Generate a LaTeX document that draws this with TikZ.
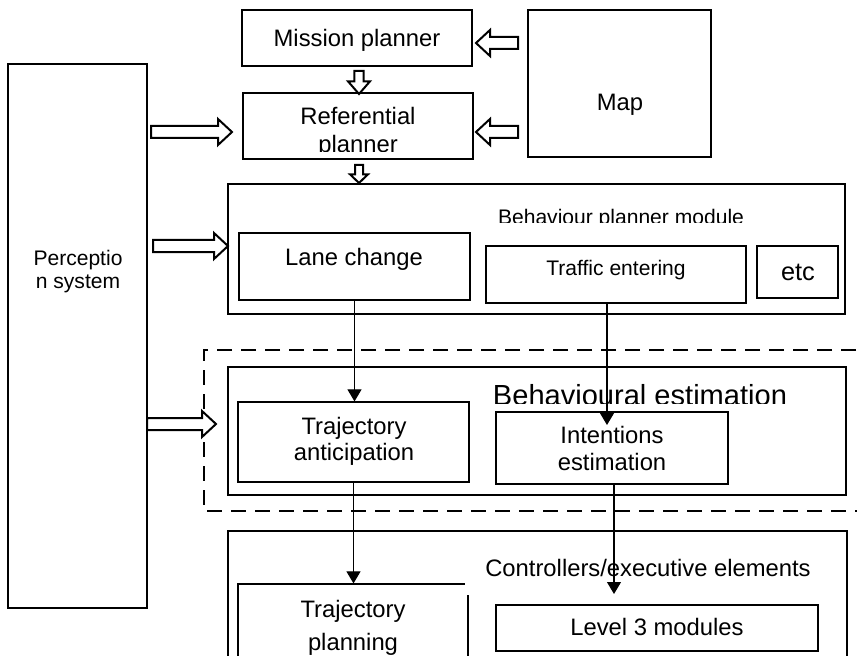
\documentclass[tikz,border=0pt]{standalone}
\usepackage{fontspec}
\setmainfont{Liberation Sans}
\usetikzlibrary{calc,fit,arrows.meta}
\newcommand\fsmain{\fontsize{17.85pt}{20pt}\selectfont}
\newcommand\fssmall{\fontsize{15.8pt}{18pt}\selectfont}
\newcommand\fsbig{\fontsize{21.8pt}{24pt}\selectfont}
\newcommand\fsetc{\fontsize{19pt}{21pt}\selectfont}
\newcommand\blockarrow[5]{%
  \coordinate (bah) at ($(#2)!#5!(#1)$);
  \draw[blockline] ($(#1)!#3!90:(#2)$) -- ($(bah)!#3!90:(#2)$) -- ($(bah)!#4!90:(#2)$) -- (#2)
    -- ($(bah)!#4!-90:(#2)$) -- ($(bah)!#3!-90:(#2)$) -- ($(#1)!#3!-90:(#2)$) -- cycle;}
\tikzset{
  thinbox/.style={draw=black, line width=0.9pt, fill=white, inner sep=0pt},
  thickbox/.style={draw=black, line width=2pt, fill=white, inner sep=0pt},
  dashbox/.style={draw=black, line width=1.9pt, dash pattern=on 11.25pt off 6.75pt},
  blockline/.style={draw=black, line width=1.5pt, fill=white, line join=miter},
  thinarr/.style={draw=black, line width=0.8pt, -{Triangle[length=9pt, width=10.5pt]}},
  lbl/.style={inner sep=0pt, anchor=base, font=\fsmain},
}
\begin{document}
\begin{tikzpicture}[x=0.75pt, y=-0.75pt]
\useasboundingbox (0,0) rectangle (857,656);
\clip (0,0) rectangle (857,656);

% top boxes
\node[thinbox, fit={(242,10)(472,66)}] (mp) {};
\node[lbl] (tmp) at (357,47) {Mission planner};
\node[thinbox, fit={(243,93)(473,159)}] (rp) {};
\begin{scope}
  \clip (243,93) rectangle (473,151.5);
  \node[lbl] (trp1) at (358,125) {Referential};
  \node[lbl] (trp2) at (358,153) {planner};
\end{scope}
\node[thinbox, fit={(528,10)(711,157)}] (map) {};
\node[lbl] (tmap) at (620,111) {Map};

% perception
\node[thinbox, fit={(8,64)(147,608)}] (perc) {};
\node[lbl, font=\fssmall] (tperc1) at (78,265) {Perceptio};
\node[lbl, font=\fssmall] (tperc2) at (78,288) {n system};

% behaviour planner module
\node[thickbox, fit={(228,184)(845,314)}] (bpm) {};
\begin{scope}
  \clip (228,184) rectangle (845,223);
  \node[lbl, font=\fssmall] (tbpm) at (621,224.5) {Behaviour planner module};
\end{scope}
\node[thinbox, fit={(239,233)(470,300)}] (lc) {};
\node[lbl] (tlc) at (354,266) {Lane change};
\node[thinbox, fit={(486,246)(746,303)}] (te) {};
\node[lbl, font=\fssmall] (tte) at (616,275) {Traffic entering};
\node[thinbox, fit={(757,246)(838,298)}] (etc) {};
\node[lbl, font=\fsetc] (tetc) at (798,281) {etc};

% behavioural estimation
\draw[dashbox] (880,350) -- (204,350) -- (204,511) -- (880,511);
\node[thickbox, fit={(228,367)(846,495)}] (bem) {};
\begin{scope}
  \clip (228,367) rectangle (846,403);
  \node[lbl, font=\fsbig] (tbem) at (640,405) {Behavioural estimation};
\end{scope}
\node[thinbox, fit={(238,402)(469,482)}] (ta) {};
\node[lbl] (tta1) at (354,434) {Trajectory};
\node[lbl] (tta2) at (354,460) {anticipation};
\node[thinbox, fit={(496,412)(728,484)}] (ie) {};
\node[lbl] (tie1) at (612,443) {Intentions};
\node[lbl] (tie2) at (612,470) {estimation};

% controllers
\node[thickbox, fit={(228,531)(847,700)}] (ctrl) {};
\node[thinbox, fit={(238,584)(468,700)}] (tp) {};
\node[fill=white, inner sep=0pt, fit={(465,540)(835,595)}] (cover) {};
\node[lbl] (tctrl) at (648,576) {Controllers/executive elements};
\node[lbl] (ttp1) at (353,617) {Trajectory};
\node[lbl] (ttp2) at (353,650) {planning};
\node[thinbox, fit={(496,605)(818,651)}] (l3) {};
\node[lbl] (tl3) at (657,635) {Level 3 modules};

% block arrows
\coordinate (am1s) at (518,43);  \coordinate (am1e) at (476,43);
\coordinate (am2s) at (518,132); \coordinate (am2e) at (476,132);
\blockarrow{am1s}{am1e}{4.5pt}{9.75pt}{10.5pt}
\blockarrow{am2s}{am2e}{4.5pt}{9.75pt}{10.5pt}
\coordinate (ad1s) at (359,71);  \coordinate (ad1e) at (359,94);
\blockarrow{ad1s}{ad1e}{3.5pt}{8.25pt}{9.5pt}
\coordinate (ad2s) at (359,165); \coordinate (ad2e) at (359,183);
\blockarrow{ad2s}{ad2e}{3pt}{6.75pt}{6.5pt}
\coordinate (ap1s) at (151,132); \coordinate (ap1e) at (232,132);
\coordinate (ap2s) at (153,246); \coordinate (ap2e) at (228,246);
\coordinate (ap3s) at (147,424); \coordinate (ap3e) at (216,424);
\blockarrow{ap1s}{ap1e}{4.5pt}{9.75pt}{10.5pt}
\blockarrow{ap2s}{ap2e}{4.5pt}{9.75pt}{10.5pt}
\blockarrow{ap3s}{ap3e}{4.5pt}{9.75pt}{10.5pt}

% thin connectors
\draw[thinarr] (lc.south) -- (lc.south |- ta.north);
\coordinate (teo) at ([xshift=-6.75pt]te.south);
\coordinate (iein) at (607,425);
\draw[thinarr] (teo) -- (iein);
\draw[thinarr] (ta.south) -- (ta.south |- tp.north);
\coordinate (ieo) at ([xshift=1.5pt]ie.south);
\coordinate (l3in) at (614,594);
\draw[thinarr] (ieo) -- (l3in);
\end{tikzpicture}
\end{document}
